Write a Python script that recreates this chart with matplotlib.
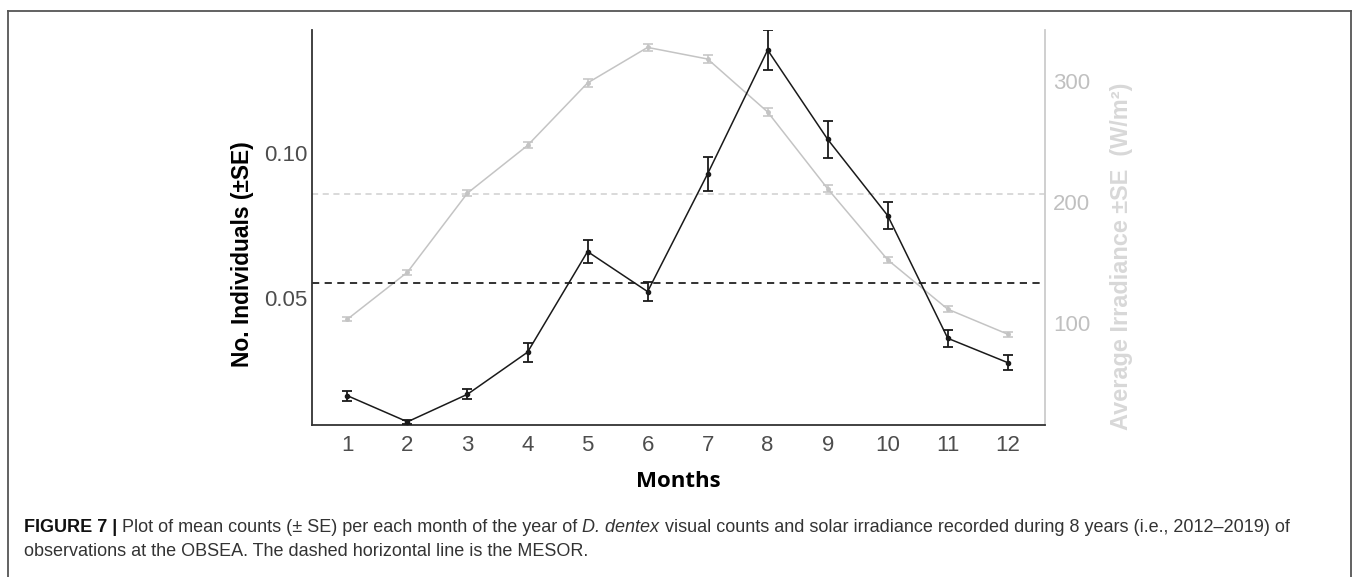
import matplotlib
matplotlib.use("Agg")
import matplotlib.pyplot as plt
from matplotlib.lines import Line2D

months = list(range(1, 13))
month_labels = [str(m) for m in months]

counts_mean = [0.0163, 0.0073, 0.0168, 0.0313, 0.0660, 0.0522,
               0.0928, 0.1355, 0.1047, 0.0784, 0.0361, 0.0277]
counts_se = [0.0017, 0.0007, 0.0018, 0.0033, 0.0040, 0.0034,
             0.0059, 0.0069, 0.0064, 0.0047, 0.0029, 0.0025]
counts_mesor = 0.0553

irr_mean = [102.8, 141.7, 207.1, 246.5, 298.2, 327.6,
            318.0, 274.2, 210.7, 151.9, 111.1, 90.4]
irr_se = [1.5, 2.0, 2.5, 2.5, 3.0, 3.0, 3.0, 3.0, 3.0, 2.5, 2.5, 2.0]
irr_mesor = 206.5

left_ticks = [0.05, 0.10]
left_ticklabels = ["0.05", "0.10"]
right_ticks = [100, 200, 300]

W, H = 1357, 577
fig = plt.figure(figsize=(W / 100, H / 100), dpi=100)
fig.patch.set_facecolor("white")

def fx(px):
    return px / W

def fy(py):
    return 1 - py / H

AX_L, AX_R, AX_T, AX_B = 312, 1045, 30, 425
ax = fig.add_axes([fx(AX_L), fy(AX_B), fx(AX_R) - fx(AX_L), fy(AX_T) - fy(AX_B)])
ax2 = ax.twinx()

def axfx(px):
    return (px - AX_L) / (AX_R - AX_L)

def axfy(py):
    return (AX_B - py) / (AX_B - AX_T)

gray = "#c4c4c4"
# irradiance series (right axis)
ax2.axhline(irr_mesor, color="#cfcfcf", lw=1.1, ls=(0, (4, 3)), zorder=1)
ax2.errorbar(months, irr_mean, yerr=irr_se, color=gray, lw=1.1, marker="o",
             ms=2.5, capsize=3.7, elinewidth=1.1, capthick=1.1, zorder=2)
ax2.set_ylim(15.3, 342)
ax2.set_yticks(right_ticks)
ax2.set_yticklabels([str(t) for t in right_ticks])

# counts series (left axis) drawn on top
ax.set_zorder(ax2.get_zorder() + 1)
ax.patch.set_visible(False)
ax.axhline(counts_mesor, color="#222222", lw=1.3, ls=(0, (4, 3)), zorder=1)
ax.errorbar(months, counts_mean, yerr=counts_se, color="#1a1a1a", lw=1.1,
            marker="o", ms=3, capsize=3.7, elinewidth=1.3, capthick=1.3, zorder=3)
ax.set_ylim(0.0062, 0.1424)
ax.set_xlim(0.41, 12.62)
ax.set_xticks(months)
ax.set_xticklabels(month_labels)
ax.set_yticks(left_ticks)
ax.set_yticklabels(left_ticklabels)

for a in (ax, ax2):
    a.spines["top"].set_visible(False)
ax.spines["right"].set_visible(False)
ax2.spines["left"].set_visible(False)
ax2.spines["bottom"].set_visible(False)
ax.spines["left"].set_color("#333333")
ax.spines["bottom"].set_color("#333333")
ax.spines["left"].set_linewidth(1.3)
ax.spines["bottom"].set_linewidth(1.3)
ax2.spines["right"].set_color("#cccccc")
ax2.spines["right"].set_linewidth(1.3)

tick_font = "Liberation Sans"
ax.tick_params(axis="y", length=0, pad=3.5, labelsize=16, labelcolor="#4d4d4d")
ax.tick_params(axis="x", length=0, pad=7, labelsize=16, labelcolor="#4d4d4d")
for lab in ax.get_xticklabels() + ax.get_yticklabels():
    lab.set_fontfamily(tick_font)
ax2.tick_params(axis="y", length=0, pad=6, labelsize=16, labelcolor="#c0c0c0")
for lab in ax2.get_yticklabels():
    lab.set_fontfamily(tick_font)

ax.set_ylabel("No. Individuals (\u00b1SE)", fontsize=16.4, fontweight="bold",
              family="Liberation Sans", color="black")
ax.yaxis.set_label_coords(axfx(254), axfy(254))
ax.set_xlabel("Months", fontsize=16, fontweight="bold", family="Open Sans",
              color="black")
ax.xaxis.set_label_coords(0.5, axfy(471))
ax2.set_ylabel("Average Irradiance \u00b1SE  (W/m\u00b2)", fontsize=16.9,
               fontweight="bold", family="Liberation Sans", color="#d8d8d8")
ax2.yaxis.set_label_coords(axfx(1110), axfy(256))

# frame around the figure
frame_kw = dict(transform=fig.transFigure, color="#555555", lw=1.3)
fig.add_artist(Line2D([fx(8), fx(8)], [fy(11), 0], **frame_kw))
fig.add_artist(Line2D([fx(8), fx(1351)], [fy(11), fy(11)], **frame_kw))
fig.add_artist(Line2D([fx(1351), fx(1351)], [fy(11), 0], **frame_kw))

# caption with mixed styles
cap_size = 13.0
cap_color = "#333333"
line1 = [("FIGURE 7 |", "bold", "normal", "#111111"),
         (" Plot of mean counts (\u00b1 SE) per each month of the year of ", "normal", "normal", cap_color),
         ("D. dentex", "normal", "italic", cap_color),
         (" visual counts and solar irradiance recorded during 8 years (i.e., 2012\u20132019) of", "normal", "normal", cap_color)]
line2 = [("observations at the OBSEA. The dashed horizontal line is the MESOR.", "normal", "normal", cap_color)]

renderer = fig.canvas.get_renderer()

def draw_line(parts, x0, y0):
    x = x0
    for s, w, st, c in parts:
        t = fig.text(fx(x), fy(y0), s, fontsize=cap_size, fontweight=w, fontstyle=st,
                     family="Liberation Sans", color=c, va="center", ha="left")
        bb = t.get_window_extent(renderer=renderer)
        x += bb.width

draw_line(line1, 24, 527)
draw_line(line2, 24, 552)

fig.savefig("out.png", dpi=100, facecolor="white")
